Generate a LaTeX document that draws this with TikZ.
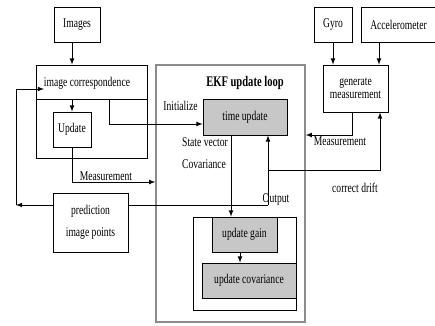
\documentclass[tikz,border=0pt]{standalone}
\usepackage{fontspec}
\setmainfont{Liberation Serif}[FakeStretch=0.72]
\usetikzlibrary{arrows,calc,positioning}

\begin{document}
\begin{tikzpicture}[%
    >=latex,
    x=0.75pt, y=-0.75pt,
    every node/.style={font=\fontsize{10}{12}\selectfont},
    box/.style 2 args={draw, line width=0.6pt, inner sep=0pt, align=center,
      minimum width=#1*0.75pt, minimum height=#2*0.75pt},
    greybox/.style 2 args={box={#1}{#2}, fill=black!22},
    frame/.style={draw=black!45, line width=1.1pt, inner sep=0pt},
    wire/.style={line width=0.6pt}
  ]
  \useasboundingbox (0,0) rectangle (435,325);

  % sensors and image side
  \node[box={46}{35}] (images) at (77,24.5) {Images};
  \node[box={111}{93}] (corr) at (91.5,111.5) {};
  \node (corrtxt) at (87,83) {image correspondence};
  \node[box={38}{35}] (upd) at (72,129.5) {Update};
  \node[box={38}{35}] (gyro) at (333,24.5) {Gyro};
  \node[box={75}{35}] (accel) at (398.5,24.5) {Accelerometer};
  \node[box={65}{47}] (gen) at (355.5,88.5) {generate\\[-2.5pt]measurement};
  \node[box={75}{59}] (pred) at (90.5,222.5) {prediction\\[4.5pt]image points};

  % filter loop
  \node[frame, minimum width=149*0.75pt, minimum height=257*0.75pt] (ekf) at (230.5,193.5) {};
  \node[font=\bfseries\fontsize{11}{13}\selectfont] (ekftitle) at (245,83) {EKF update loop};
  \node[greybox={84}{36}] (tu) at (245,117) {time update};
  \node[box={103}{93}] (grp) at (244.5,263.5) {};
  \node[greybox={65}{35}] (gain) at (244.5,234.5) {update gain};
  \node[greybox={94}{35}] (cov) at (249,280.5) {update covariance};

  % labels
  \node (init) at (180.5,106) {Initialize};
  \node (statevec) at (205,142) {State vector};
  \node (covlbl) at (204,164) {Covariance};
  \node (outlbl) at (276,200) {Output};
  \node (drift) at (355,188) {correct drift};
  \node (measl) at (106,176) {Measurement};
  \node (measr) at (340,141) {Measurement};

  \coordinate (corrout) at (109,99);
  \coordinate (out) at (268,205);
  \coordinate (back) at (16,205);

  \draw[wire] (corr.west |- 0,99) -- (corr.east |- 0,99);

  % connectors
  \draw[wire,->] (images.south -| upd) -- (corr.north -| upd);
  \draw[wire,->] (upd.north |- 0,99) -- (upd.north);
  \draw[wire,->] (corrout) |- (tu.west |- 0,124);
  \draw[wire,->] (upd.south) |- (ekf.west |- 0,182);
  \draw[wire,->] (gyro.south) -- (gyro.south |- gen.north);
  \draw[wire,->] (accel.south -| 379,0) -- (gen.north -| 379,0);
  \draw[wire,->] (gen.south -| 352,0) |- (ekf.east |- 0,135);
  \draw[wire,->] (out) -- (tu.south -| out);
  \draw[wire,->] (out |- 0,170) -| (gen.south -| 380,0);
  \draw[wire] (out) -- (pred.east |- out);
  \draw[wire,->] (pred.west |- out) -- (back);
  \draw[wire,->] (back) |- (44,89);
  \draw[wire,->] (tu.south -| 231,0) -- (gain.north -| 231,0);
  \draw[wire,->] (gain.south -| 240,0) -- (cov.north -| 240,0);
\end{tikzpicture}
\end{document}
